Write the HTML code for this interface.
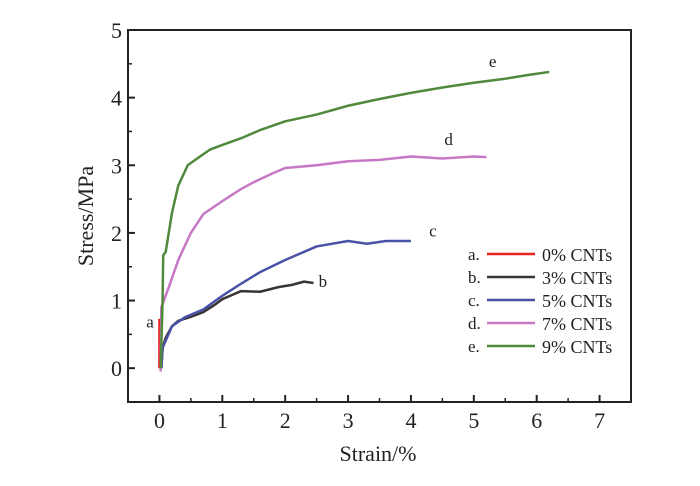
<!DOCTYPE html>
<html><head><meta charset="utf-8"><style>
body{margin:0;background:#fff}
svg text{font-family:"Liberation Serif",serif;fill:#222}
</style></head><body>
<svg id="chart" width="700" height="481">
<rect x="128" y="30" width="503" height="372" fill="none" stroke="#222" stroke-width="2"/>
<g id="ticks"></g>
<g id="series"></g>
<text x="378" y="461" font-size="22" text-anchor="middle">Strain/%</text>
<text transform="translate(93,216) rotate(-90)" font-size="22" text-anchor="middle">Stress/MPa</text>
<g id="legend"></g>
</svg>
<script>
const xTicks=[0,1,2,3,4,5,6,7];
const yTicks=[0,1,2,3,4,5];
const seriesNames=["a","b","c","d","e"];
const legendLabels=["0% CNTs","3% CNTs","5% CNTs","7% CNTs","9% CNTs"];
const colors=["#e8231f","#3a3434","#4a52a8","#c678c4","#4f8a3c"];
const aX=[0,0],aY=[0,0.73];
const bX=[0.03,0.05,0.1,0.2,0.3,0.5,0.7,0.9,1.0,1.2,1.3,1.6,1.9,2.1,2.3,2.45];
const bY=[0,0.3,0.45,0.62,0.7,0.76,0.83,0.95,1.02,1.1,1.14,1.13,1.2,1.23,1.28,1.26];
const cX=[0.03,0.05,0.2,0.4,0.7,1.0,1.3,1.6,2.0,2.5,3.0,3.3,3.6,4.0];
const cY=[0,0.3,0.62,0.75,0.87,1.07,1.25,1.42,1.6,1.8,1.88,1.84,1.88,1.88];
const dX=[0.02,0.03,0.15,0.3,0.5,0.7,1.0,1.3,1.5,1.8,2.0,2.5,3.0,3.5,4.0,4.5,5.0,5.2];
const dY=[-0.05,0.9,1.2,1.6,2.0,2.28,2.47,2.65,2.75,2.88,2.96,3.0,3.06,3.08,3.13,3.1,3.13,3.12];
const eX=[0.02,0.05,0.06,0.1,0.2,0.3,0.45,0.6,0.8,1.0,1.3,1.6,2.0,2.5,3.0,3.5,4.0,4.5,5.0,5.5,5.9,6.2];
const eY=[0,1.0,1.67,1.72,2.3,2.7,3.0,3.1,3.23,3.3,3.4,3.52,3.65,3.75,3.88,3.98,4.07,4.15,4.22,4.28,4.34,4.38];
const curveLabelX=[-0.15,2.6,4.35,4.6,5.3];
const curveLabelY=[0.6,1.2,1.95,3.3,4.45];
const NS="http://www.w3.org/2000/svg";
const sx=v=>128+(v+0.5)*(503/8);
const sy=v=>402-(v+0.5)*(372/5.5);
function mk(t,a,p){const e=document.createElementNS(NS,t);for(const k in a)e.setAttribute(k,a[k]);p.appendChild(e);return e;}
const tg=document.getElementById('ticks');
xTicks.forEach(v=>{
 const l=mk('line',{x1:sx(v),x2:sx(v),y1:402,y2:395,stroke:'#222','stroke-width':2},tg);
 
 
 const m=mk('line',{x1:sx(v+0.5),x2:sx(v+0.5),y1:402,y2:398,stroke:'#222','stroke-width':1.5},tg);
 
 
 const t=mk('text',{x:sx(v),y:428,'font-size':22,'text-anchor':'middle'},tg);t.textContent=v;
 
 
});
yTicks.forEach(v=>{
 const l=mk('line',{x1:128,x2:135,y1:sy(v),y2:sy(v),stroke:'#222','stroke-width':2},tg);
 
 
 if(v<5){const m=mk('line',{x1:128,x2:132,y1:sy(v+0.5),y2:sy(v+0.5),stroke:'#222','stroke-width':1.5},tg);
 
 }
 const t=mk('text',{x:122,y:sy(v)+8,'font-size':22,'text-anchor':'end'},tg);t.textContent=v;
 
 
});
const sg=document.getElementById('series');
const data=[[aX,aY],[bX,bY],[cX,cY],[dX,dY],[eX,eY]];
data.forEach((d,i)=>{
 const pts=d[0].map((x,j)=>sx(x)+','+sy(d[1][j])).join(' ');
 const p=mk('polyline',{points:pts,fill:'none',stroke:colors[i],'stroke-width':2.5,'stroke-linejoin':'round'},sg);
 
 
 const t=mk('text',{x:sx(curveLabelX[i]),y:sy(curveLabelY[i]),'font-size':17,'text-anchor':'middle'},sg);t.textContent=seriesNames[i];
 
 
});
const lg=document.getElementById('legend');
legendLabels.forEach((s,i)=>{
 const y=254+i*23;
 const k=mk('text',{x:468,y:y+6,'font-size':17},lg);k.textContent=seriesNames[i]+'.';
 
 
 const l=mk('line',{x1:487,x2:535,y1:y,y2:y,stroke:colors[i],'stroke-width':2.5},lg);
 
 
 const t=mk('text',{x:542,y:y+7,'font-size':18},lg);t.textContent=s;
 
 
});
</script>
</body></html>
